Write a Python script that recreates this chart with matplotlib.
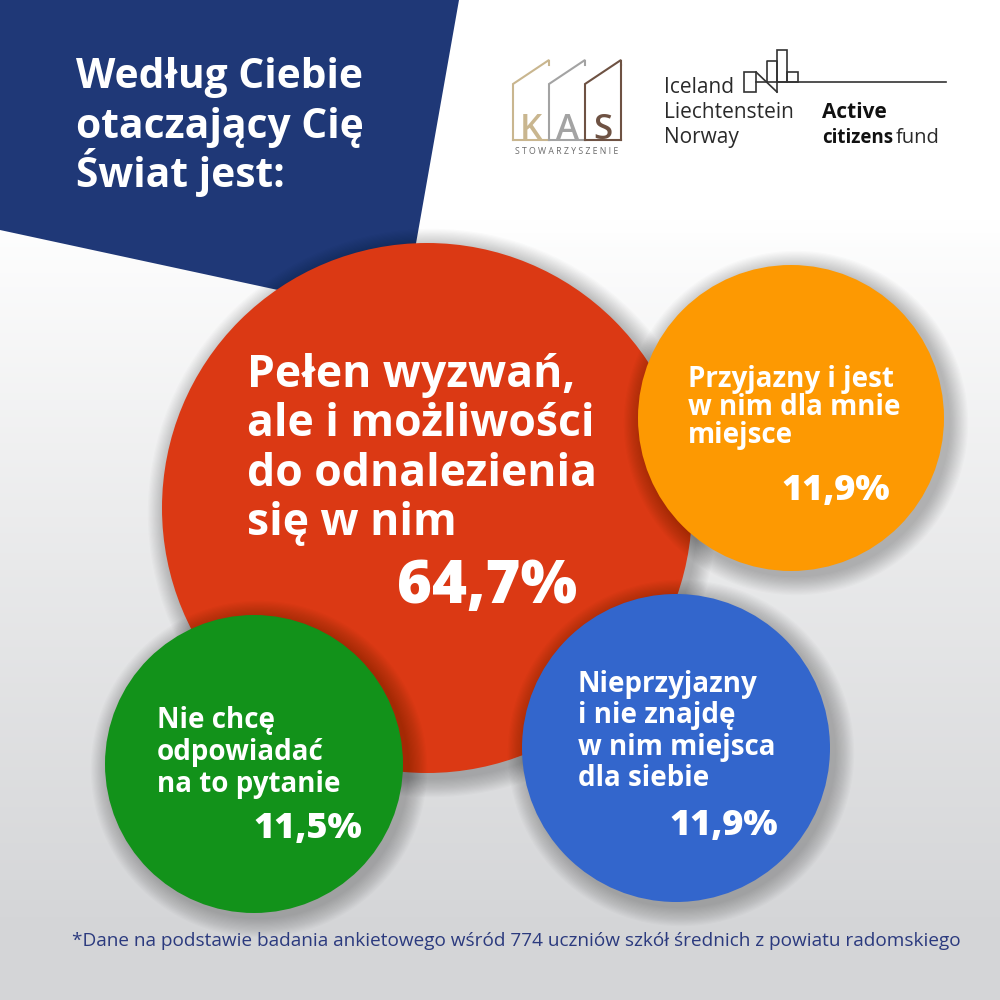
import matplotlib
matplotlib.use('Agg')
import matplotlib.pyplot as plt
import numpy as np
from matplotlib.patches import Circle, Polygon, Rectangle

# data
categories = [
    'Pełen wyzwań,\nale i możliwości\ndo odnalezienia\nsię w nim',
    'Przyjazny i jest\nw nim dla mnie\nmiejsce',
    'Nie chcę\nodpowiadać\nna to pytanie',
    'Nieprzyjazny\ni nie znajdę\nw nim miejsca\ndla siebie',
]
values = [64.7, 11.9, 11.5, 11.9]
colors = ['#db3914', '#fd9902', '#12921a', '#3366cc']

# bubble layout: centre, radius, label baseline, value baseline
centres = [(427, 508), (791, 418), (254, 764), (676, 748)]
radii = [265, 153, 149, 154]
label_pos = [(247, 387), (688, 387), (157, 728), (578, 692)]
label_size = [32, 20, 20, 20]
label_step = [49.5, 28, 32, 31.5]
value_pos = [(577, 603), (890, 500), (362, 838), (778, 835)]
value_size = [43, 26, 26, 26]

title = 'Według Ciebie\notaczający Cię\nŚwiat jest:'
footnote = ('*Dane na podstawie badania ankietowego wśród 774 uczniów '
            'szkół średnich z powiatu radomskiego')

navy = '#1f3877'
fam = ['Open Sans', 'DejaVu Sans']

fig = plt.figure(figsize=(10, 10), dpi=100)
ax = fig.add_axes([0, 0, 1, 1])
ax.set_xlim(0, 1000)
ax.set_ylim(1000, 0)
ax.axis('off')

# background gradient
yy = np.linspace(0, 1, 300)
t = np.clip((yy - 0.22) / 0.7, 0, 1) ** 0.9
top = np.array([1.0, 1.0, 1.0])
bot = np.array([0.835, 0.839, 0.847])
grad = top[None, :] * (1 - t[:, None]) + bot[None, :] * t[:, None]
ax.imshow(grad[:, None, :], extent=[0, 1000, 1000, 0], aspect='auto', zorder=0)

# blue header shape
ax.add_patch(Polygon([(0, 0), (459, 0), (403, 317), (0, 230)],
                     closed=True, facecolor=navy, edgecolor='none', zorder=1))
for i, line in enumerate(title.split('\n')):
    ax.text(76, 88 + i * 49.5, line, color='white', fontsize=29.3,
            fontweight='bold', family=fam, va='baseline', ha='left', zorder=2)

# bubbles with soft shadows
for k in range(len(values)):
    cx, cy = centres[k]
    r = radii[k]
    z = 3 + k * 2
    for s in range(16, 0, -1):
        ax.add_patch(Circle((cx + 5, cy + 5), r + s * 1.2, facecolor='black',
                            edgecolor='none', alpha=0.015, zorder=z))
    ax.add_patch(Circle((cx, cy), r, facecolor=colors[k], edgecolor='none',
                        zorder=z + 0.5))

for k in range(len(values)):
    lx, ly = label_pos[k]
    for i, line in enumerate(categories[k].split('\n')):
        ax.text(lx, ly + label_step[k] * i, line, color='white',
                fontsize=label_size[k], fontweight='bold', family=fam,
                va='baseline', ha='left', zorder=20)
    vx, vy = value_pos[k]
    txt = f'{values[k]:.1f}%'.replace('.', ',')
    ax.text(vx, vy, txt, color='white', fontsize=value_size[k],
            fontweight='heavy', family=fam, va='baseline', ha='right', zorder=20)

ax.text(72, 946, footnote, color='#2b3a7e', fontsize=13.7, family=fam,
        va='baseline', ha='left', zorder=20)

# KAS logo
house_cols = ['#c9b68f', '#a3a3a3', '#6e5243']
for i, c in enumerate(house_cols):
    x0 = 513 + i * 36
    ax.plot([x0, x0, x0 + 36, x0 + 36], [140, 84, 60, 65], color=c,
            lw=1.5, solid_joinstyle='miter', zorder=20)
    ax.plot([x0, x0 + 36], [140, 140], color=c, lw=1.5, zorder=20)
    ax.text(x0 + 18, 139, 'KAS'[i], color=c, fontsize=25, fontweight='semibold',
            family=fam, ha='center', va='baseline', zorder=20)
ax.plot([621, 621], [65, 140], color=house_cols[2], lw=1.5, zorder=20)
ax.text(567, 151, 'S T O W A R Z Y S Z E N I E', color='#6b6b6b', fontsize=6.3,
        family=fam, ha='center', va='center', zorder=20)

# Active citizens fund logo
for j, w in enumerate(['Iceland', 'Liechtenstein', 'Norway']):
    ax.text(664, 93 + j * 25, w, color='#2a2a2a', fontsize=15,
            family=fam, ha='left', va='baseline', zorder=20)
ax.text(822, 118, 'Active', color='#111111', fontsize=15, family=fam,
        fontweight='bold', ha='left', va='baseline', zorder=20)
ax.text(822, 143, 'citizens', color='#111111', fontsize=13.5, family=fam,
        fontweight='bold', ha='left', va='baseline', zorder=20)
ax.text(896, 143, 'fund', color='#2a2a2a', fontsize=14.5, family=fam,
        ha='left', va='baseline', zorder=20)
lk = dict(color='#333333', lw=1.2, zorder=20)
ax.add_patch(Rectangle((744, 72), 12, 20, fill=False, edgecolor='#333333', lw=1.2, zorder=20))
ax.plot([756, 777], [72, 92], **lk)
ax.plot([767, 767, 777, 777], [82, 61, 61, 92], **lk)
ax.add_patch(Rectangle((777, 50), 10, 32, fill=False, edgecolor='#333333', lw=1.2, zorder=20))
ax.add_patch(Rectangle((787, 72), 11, 10, fill=False, edgecolor='#333333', lw=1.2, zorder=20))
ax.plot([756, 946], [82, 82], **lk)

fig.savefig('out.png', dpi=100)
